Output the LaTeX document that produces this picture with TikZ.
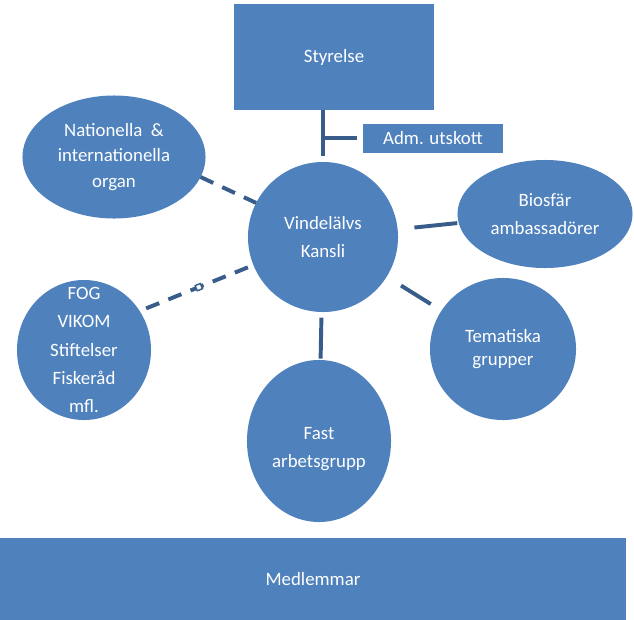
\documentclass[tikz,border=0pt]{standalone}
\usepackage{fontspec}
\setmainfont{Carlito}
\usetikzlibrary{shapes.geometric}
\definecolor{OrgBlue}{HTML}{4F81BD}
\definecolor{OrgLine}{HTML}{385D8A}
\newcommand\orgfont{\fontsize{13.4}{20}\selectfont}
\tikzset{
  orgbox/.style={fill=OrgBlue, inner sep=0pt, outer sep=0pt, text=white,
                 font=\orgfont, align=center},
  orgblob/.style={ellipse, fill=OrgBlue, inner sep=0pt, outer sep=0pt},
  blobtext/.style={text=white, font=\orgfont, align=center},
  link/.style={OrgLine, line width=2.8pt},
  dashlink/.style={link, dash pattern=on 10pt off 7pt},
  tickbox/.style={draw=OrgLine, fill=white, line width=1pt, inner sep=0pt,
                  minimum size=4pt, solid},
}

\begin{document}
\begin{tikzpicture}[x=0.025cm, y=-0.025cm]
  \useasboundingbox (0,0) rectangle (634,620);

  % boxes
  \node[orgbox, minimum width=5cm, minimum height=2.625cm] (styrelse) at (334,57) {Styrelse};
  \node[orgbox, minimum width=3.5cm, minimum height=0.725cm] (adm) at (433,138) {Adm. utskott};
  \node[orgbox, minimum width=15.65cm, minimum height=2.05cm] (medl) at (313,579) {Medlemmar};

  % round groups
  \node[orgblob, minimum width=3.75cm, minimum height=3.75cm,
        label={[blobtext]center:Vindelälvs\\Kansli}] (kansli) at (323,237) {};
  \node[orgblob, minimum width=4.575cm, minimum height=3.075cm,
        label={[blobtext, font=\fontsize{13.4}{18}\selectfont]center:Nationella~~\&\\internationella\\organ}] (nat) at (114,157) {};
  \node[orgblob, minimum width=4.375cm, minimum height=2.7cm,
        label={[blobtext]center:Biosfär\\ambassadörer}] (bio) at (545,214) {};
  \node[orgblob, minimum width=3.65cm, minimum height=3.55cm,
        label={[blobtext, font=\fontsize{13.4}{16}\selectfont]center:Tematiska\\grupper}] (tema) at (503,349) {};
  \node[orgblob, minimum width=3.6cm, minimum height=4.05cm,
        label={[blobtext, yshift=-0.2cm]center:Fast\\arbetsgrupp}] (fast) at (319,441) {};
  \node[orgblob, minimum width=3.35cm, minimum height=3.5cm,
        label={[blobtext]center:FOG\\VIKOM\\Stiftelser\\Fiskeråd\\mfl.}] (fog) at (84,350) {};

  % connectors
  \draw[link, shorten <=4pt] (kansli.north) -- (kansli.north |- styrelse.south);
  \draw[link, shorten <=4pt] (adm.west) -- (adm.west -| kansli.north);
  \draw[link, shorten <=12pt, shorten >=1pt] (kansli) -- (bio);
  \draw[link, shorten <=12pt, shorten >=9pt] (kansli) -- (tema);
  \draw[link, shorten <=4pt, shorten >=1pt] (kansli) -- (fast);
  \draw[dashlink] (nat.-13) -- (kansli.153);
  \draw[dashlink, shorten <=5pt] (fog.35) -- (kansli.202)
    node[tickbox, pos=0.52, sloped] (tick) {};
\end{tikzpicture}
\end{document}
